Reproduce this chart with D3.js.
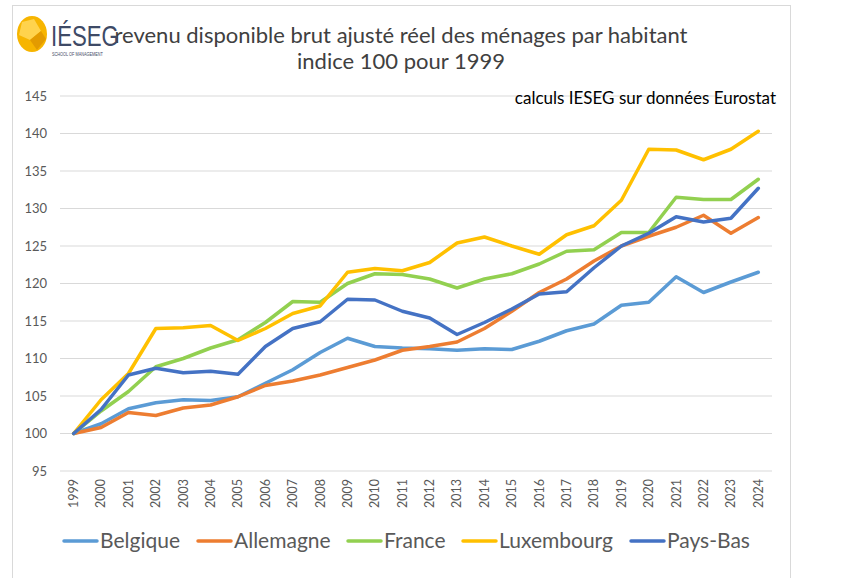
<!DOCTYPE html>
<html>
<head>
<meta charset="utf-8">
<script src="https://cdn.jsdelivr.net/npm/d3@7"></script>
<style>
  body { margin: 0; background: #fff; }
  text { font-family: Lato, "Open Sans", sans-serif; }
</style>
</head>
<body>
<div id="chart"></div>
<script>
// data, index 100 = 1999
var years = ["1999","2000","2001","2002","2003","2004","2005","2006","2007","2008","2009","2010","2011","2012","2013","2014","2015","2016","2017","2018","2019","2020","2021","2022","2023","2024"];
var belgique   = [100, 101.3, 103.3, 104.1, 104.5, 104.4, 104.9, 106.7, 108.5, 110.8, 112.7, 111.6, 111.4, 111.3, 111.1, 111.3, 111.2, 112.3, 113.7, 114.6, 117.1, 117.5, 120.9, 118.8, 120.2, 121.5];
var allemagne  = [100, 100.8, 102.8, 102.4, 103.4, 103.8, 104.9, 106.4, 107.0, 107.8, 108.8, 109.8, 111.1, 111.6, 112.2, 114.0, 116.3, 118.8, 120.6, 123.0, 125.0, 126.3, 127.5, 129.1, 126.7, 128.8];
var france     = [100, 103.0, 105.6, 108.9, 110.0, 111.4, 112.5, 114.8, 117.6, 117.5, 120.0, 121.3, 121.2, 120.6, 119.4, 120.6, 121.3, 122.6, 124.3, 124.5, 126.8, 126.8, 131.5, 131.2, 131.2, 133.9];
var luxembourg = [100, 104.5, 108.0, 114.0, 114.1, 114.4, 112.4, 114.0, 116.0, 117.0, 121.5, 122.0, 121.7, 122.8, 125.4, 126.2, 125.0, 123.9, 126.5, 127.7, 131.1, 137.9, 137.8, 136.5, 137.9, 140.3];
var paysBas    = [100, 103.2, 107.8, 108.7, 108.1, 108.3, 107.9, 111.6, 114.0, 114.9, 117.9, 117.8, 116.3, 115.4, 113.2, 114.8, 116.6, 118.6, 118.9, 122.1, 125.0, 126.7, 128.9, 128.2, 128.7, 132.7];
var yTicks = [95, 100, 105, 110, 115, 120, 125, 130, 135, 140, 145];

var series = [
  {name: "Belgique",   values: belgique,   color: "#5B9BD5"},
  {name: "Allemagne",  values: allemagne,  color: "#ED7D31"},
  {name: "France",     values: france,     color: "#92D050"},
  {name: "Luxembourg", values: luxembourg, color: "#FFC000"},
  {name: "Pays-Bas",   values: paysBas,    color: "#4472C4"}
];

var svgWidth = 842;
var svgHeight = 578;

var svg = d3.select("#chart")
  .append("svg")
  .attr("width", svgWidth)
  .attr("height", svgHeight);

// frame
svg.append("rect")
  .attr("x", 12.5).attr("y", 5.5)
  .attr("width", 778).attr("height", 600)
  .attr("fill", "none")
  .attr("stroke", "#d9d9d9");

var x = d3.scaleBand().domain(years).range([60, 772]);
var y = d3.scaleLinear().domain([95, 145]).range([471, 96]);

// grid
svg.append("g")
  .selectAll("line")
  .data(yTicks)
  .enter()
  .append("line")
  .attr("x1", 60).attr("x2", 772)
  .attr("y1", d => y(d)).attr("y2", d => y(d))
  .attr("stroke", "#d9d9d9")
  .attr("stroke-width", 1);

var yAxis = svg.append("g")
  .attr("transform", "translate(60,0)")
  .call(d3.axisLeft(y).tickValues(yTicks).tickSize(0).tickPadding(13));
yAxis.select(".domain").remove();
yAxis.selectAll("text")
  .attr("fill", "#595959")
  .style("font-size", "13px")
  .style("font-family", "Lato, sans-serif");

var xAxis = svg.append("g")
  .attr("transform", "translate(0,471)")
  .call(d3.axisBottom(x).tickSize(0));
xAxis.select(".domain").remove();
xAxis.selectAll("text")
  .attr("fill", "#595959")
  .style("font-size", "12.5px")
  .style("font-family", "Lato, sans-serif")
  .attr("text-anchor", "end")
  .attr("transform", "translate(0,8) rotate(-90)")
  .attr("x", 0).attr("y", 0)
  .attr("dy", "0.35em");

// lines
var line = d3.line()
  .x((d, i) => x(years[i]) + x.bandwidth() / 2)
  .y(d => y(d));

svg.append("g")
  .selectAll("path")
  .data(series)
  .enter()
  .append("path")
  .attr("d", d => line(d.values))
  .attr("fill", "none")
  .attr("stroke", d => d.color)
  .attr("stroke-width", 3.5)
  .attr("stroke-linejoin", "round")
  .attr("stroke-linecap", "round");

// titles
svg.append("text")
  .attr("x", 401).attr("y", 43)
  .attr("text-anchor", "middle")
  .attr("fill", "#404040")
  .style("font-size", "22px")
  .text("revenu disponible brut ajusté réel des ménages par habitant");
svg.append("text")
  .attr("x", 401).attr("y", 69)
  .attr("text-anchor", "middle")
  .attr("fill", "#404040")
  .style("font-size", "22px")
  .text("indice 100 pour 1999");
svg.append("text")
  .attr("x", 776).attr("y", 104)
  .attr("text-anchor", "end")
  .attr("fill", "#000")
  .style("font-size", "17px")
  .text("calculs IESEG sur données Eurostat");

// logo
var logo = svg.append("g");
logo.append("ellipse")
  .attr("cx", 32).attr("cy", 34).attr("rx", 15).attr("ry", 18)
  .attr("fill", "#F7B500");
logo.append("path")
  .attr("d", "M22,22 L34,19 L41,31 L30,40 L19,35 Z")
  .attr("fill", "#FFD34D");
logo.append("path")
  .attr("d", "M30,40 L41,31 L46,39 L37,50 Z")
  .attr("fill", "#E39B00");
logo.append("g")
  .attr("transform", "translate(51,46) scale(0.74,1)")
  .append("text")
  .attr("fill", "#3E4A66")
  .style("font-family", "'Liberation Sans', sans-serif")
  .style("font-size", "30px")
  .text("IÉSEG");
logo.append("g")
  .attr("transform", "translate(52,56) scale(0.8,1)")
  .append("text")
  .attr("fill", "#3E4A66")
  .style("font-family", "'Liberation Sans', sans-serif")
  .style("font-size", "4.8px")
  .text("SCHOOL OF MANAGEMENT");

// legend
var legendX = [64, 198, 348, 463, 631];
var legend = svg.append("g")
  .selectAll("g")
  .data(series)
  .enter()
  .append("g")
  .attr("transform", (d, i) => `translate(${legendX[i]},541)`);
legend.append("line")
  .attr("x1", 0).attr("x2", 33)
  .attr("stroke", d => d.color)
  .attr("stroke-width", 3.5)
  .attr("stroke-linecap", "round");
legend.append("text")
  .attr("x", 36).attr("dy", "0.35em")
  .attr("fill", "#595959")
  .style("font-size", "21px")
  .text(d => d.name);
</script>
</body>
</html>
